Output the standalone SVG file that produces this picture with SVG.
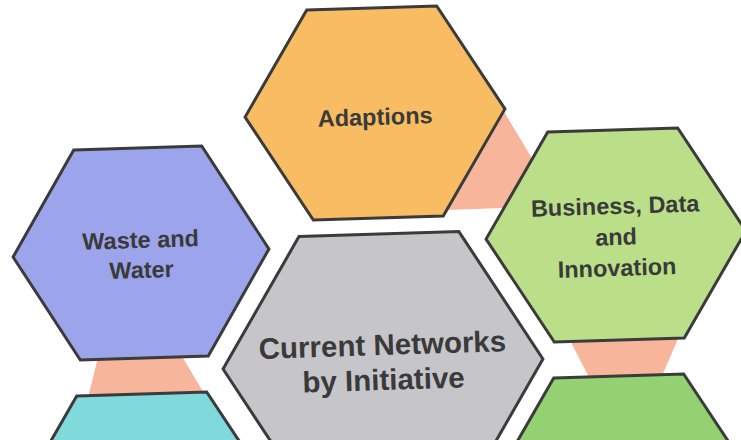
<svg xmlns="http://www.w3.org/2000/svg" width="741" height="440" viewBox="0 0 741 440">
  <defs>
    <!-- standard and large hexagon outlines, centred on the origin -->
    <polygon id="hex" points="-65,-105 65,-105 130,0 65,105 -65,105 -130,0"/>
    <polygon id="hexW" points="-64,-105 64,-105 128,0 64,105 -64,105 -128,0"/>
    <polygon id="hexL" points="-80,-130 80,-130 160,0 80,130 -80,130 -160,0"/>
  </defs>
  <style>
    .hx { stroke: #3b3b3b; stroke-width: 3; stroke-linejoin: miter; }
    .link { fill: #f7b59b; }
    .lbl { font-family: "Liberation Sans", Arial, Helvetica, sans-serif; font-weight: bold; fill: #3a3a3a; text-anchor: middle; }
    .s { font-size: 23.5px; }
    .l { font-size: 29.5px; }
  </style>
  <rect width="741" height="440" fill="#ffffff"/>

  <!-- connector bands between neighbouring hexagons -->
  <g id="connectors">
    <polygon class="link" points="503,110 545,180 530,207 445,210 470,150"/>
    <polygon class="link" points="101,345 174,343 208,400 87,402"/>
    <polygon class="link" points="562,325 684,325 658,385 593,385"/>
  </g>

  <g id="adaptions" transform="translate(375,113) rotate(-1.8)">
    <use href="#hex" class="hx" fill="#f8bd63"/>
    <text class="lbl s" x="0" y="12">Adaptions</text>
  </g>

  <g id="business" transform="translate(616,235) rotate(-1.8)">
    <use href="#hex" class="hx" fill="#bbdf88"/>
    <text class="lbl s" x="0" y="-21">Business, Data</text>
    <text class="lbl s" x="0" y="10">and</text>
    <text class="lbl s" x="0" y="41">Innovation</text>
  </g>

  <g id="waste-water" transform="translate(141,253) rotate(-1.8)">
    <use href="#hexW" class="hx" fill="#9ca5eb"/>
    <text class="lbl s" x="0" y="-5">Waste and</text>
    <text class="lbl s" x="0" y="25">Water</text>
  </g>

  <g id="current-networks" transform="translate(383,364) rotate(-1.8)">
    <use href="#hexL" class="hx" fill="#c6c6ca"/>
    <text class="lbl l" x="0" y="-9">Current Networks</text>
    <text class="lbl l" x="0" y="26">by Initiative</text>
  </g>

  <g id="bottom-left" transform="translate(145,499) rotate(-1.8)">
    <use href="#hex" class="hx" fill="#80d9da"/>
  </g>

  <g id="bottom-right" transform="translate(622,481) rotate(-1.8)">
    <use href="#hex" class="hx" fill="#93d172"/>
  </g>
</svg>
